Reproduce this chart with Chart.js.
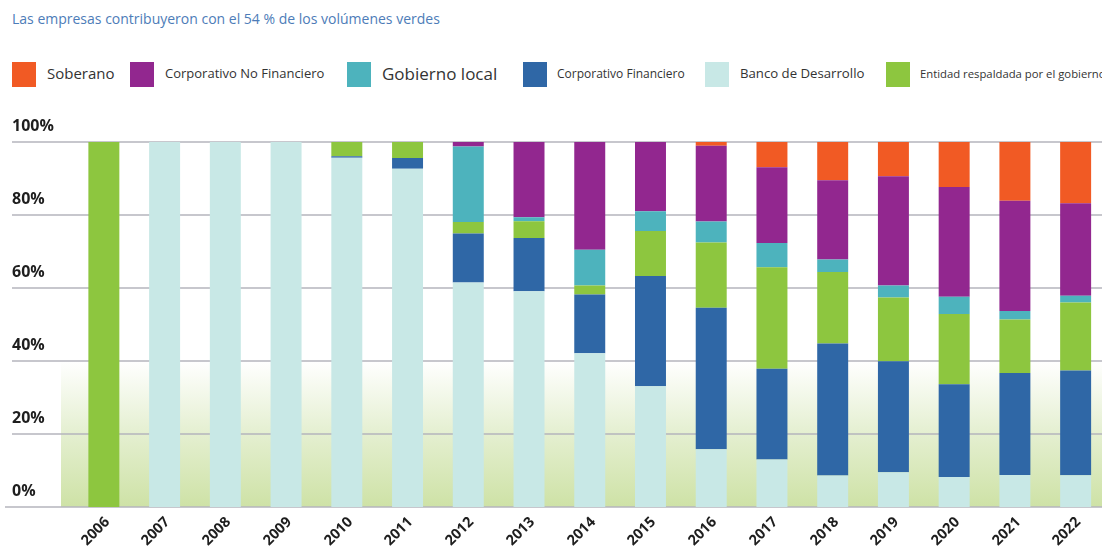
<!DOCTYPE html>
<html>
<head>
<meta charset="utf-8">
<script src="https://cdn.jsdelivr.net/npm/chart.js@4"></script>
<style>
  html, body { margin: 0; padding: 0; background: #fff; overflow: hidden; }
  #wrap { position: relative; width: 1102px; height: 549px; overflow: hidden; font-family: "Open Sans", sans-serif; }
  #chart { position: absolute; left: 0; top: 0; }
  .title { position: absolute; left: 12px; top: 9px; font-size: 14px; color: #4d7cb8; white-space: nowrap; }
  .lg-box { position: absolute; top: 62px; width: 24px; height: 25px; }
  .lg-txt { position: absolute; color: #333; white-space: nowrap; line-height: 1; }
  .xlab { position: absolute; font-size: 14.5px; font-weight: bold; color: #1e1e1e; line-height: 1; height: 15px;
          white-space: nowrap; transform-origin: 100% 50%; transform: rotate(-45deg); }
</style>
</head>
<body>
<div id="wrap">
  <div class="title">Las empresas contribuyeron con el 54 % de los volúmenes verdes</div>
  <div id="legend"></div>
  <canvas id="chart" width="1106" height="549"></canvas>
  <div id="xlabels"></div>
</div>
<script>
const years = ['2006','2007','2008','2009','2010','2011','2012','2013','2014','2015','2016','2017','2018','2019','2020','2021','2022'];
const yTicks = [0, 20, 40, 60, 80, 100];

// shares in % (bottom of the stack first)
const bancoDesarrollo  = [0, 100, 100, 100, 95.7, 92.7, 61.5, 59.1, 42.1, 33.1, 15.8, 13.0,  8.6,  9.5,  8.2,  8.8,  8.7];
const corpFinanciero   = [0,   0,   0,   0,  0.4,  2.9, 13.4, 14.6, 16.1, 30.2, 38.8, 24.9, 36.2, 30.4, 25.4, 27.9, 28.7];
const entidadRespald   = [100, 0,   0,   0,  3.9,  4.4,  3.2,  4.6,  2.5, 12.3, 17.9, 27.8, 19.6, 17.5, 19.3, 14.7, 18.6];
const gobiernoLocal    = [0,   0,   0,   0,  0,    0,   20.7,  1.1,  9.8,  5.4,  5.7,  6.6,  3.4,  3.3,  4.7,  2.3,  1.9];
const corpNoFinanciero = [0,   0,   0,   0,  0,    0,    1.2, 20.6, 29.5, 19.0, 20.8, 20.8, 21.7, 29.9, 30.1, 30.2, 25.3];
const soberano         = [0,   0,   0,   0,  0,    0,    0,    0,    0,    0,    1.0,  6.9, 10.5,  9.4, 12.3, 16.1, 16.8];

const colors = {
  soberano: '#f15a24',
  cnf: '#92278f',
  gob: '#4db3bd',
  cf: '#2f67a6',
  banco: '#c8e8e6',
  ent: '#8dc63f'
};

// legend in the order shown, each entry with its own text size as in the original
const legendItems = [
  { label: 'Soberano', color: colors.soberano, box: 12, text: 47, size: 15 },
  { label: 'Corporativo No Financiero', color: colors.cnf, box: 130, text: 165, size: 13 },
  { label: 'Gobierno local', color: colors.gob, box: 347, text: 382, size: 17 },
  { label: 'Corporativo Financiero', color: colors.cf, box: 523, text: 557, size: 12 },
  { label: 'Banco de Desarrollo', color: colors.banco, box: 705, text: 740, size: 13.2 },
  { label: 'Entidad respaldada por el gobierno', color: colors.ent, box: 886, text: 920, size: 11.3 }
];

const legendEl = document.getElementById('legend');
legendItems.forEach(item => {
  const b = document.createElement('div');
  b.className = 'lg-box';
  b.style.left = item.box + 'px';
  b.style.background = item.color;
  legendEl.appendChild(b);
  const t = document.createElement('div');
  t.className = 'lg-txt';
  t.style.left = item.text + 'px';
  t.style.fontSize = item.size + 'px';
  t.style.top = (74.5 - item.size * 0.55) + 'px';
  t.textContent = item.label;
  legendEl.appendChild(t);
});

// background band, grid lines and percentage labels above each line
const backdrop = {
  id: 'backdrop',
  beforeDatasetsDraw(chart) {
    const ctx = chart.ctx;
    const y = chart.scales.y;
    const right = chart.width;
    const top40 = y.getPixelForValue(40);
    const bottom = y.getPixelForValue(0);

    const grad = ctx.createLinearGradient(0, top40, 0, bottom);
    grad.addColorStop(0, 'rgba(255,255,255,1)');
    grad.addColorStop(0.5, 'rgb(228,239,208)');
    grad.addColorStop(1, 'rgb(206,226,166)');
    ctx.save();
    ctx.fillStyle = grad;
    ctx.fillRect(61, top40, right - 61, bottom - top40);

    ctx.strokeStyle = '#b4b4bc';
    ctx.lineWidth = 1.5;
    ctx.font = 'bold 16px "Open Sans", sans-serif';
    ctx.fillStyle = '#1e1e1e';
    ctx.textAlign = 'left';
    ctx.textBaseline = 'alphabetic';
    yTicks.forEach(v => {
      const py = y.getPixelForValue(v);
      ctx.beginPath();
      ctx.moveTo(v === 0 ? 5 : 12, py);
      ctx.lineTo(right, py);
      ctx.stroke();
      ctx.fillText(v + '%', 12, py - 11);
    });
    ctx.restore();
  }
};

const mk = (label, data, color) => ({
  label: label,
  data: data,
  backgroundColor: color,
  borderWidth: 0,
  barPercentage: 0.51,
  categoryPercentage: 1.0
});

const chart = new Chart(document.getElementById('chart'), {
  type: 'bar',
  data: {
    labels: years,
    datasets: [
      mk('Banco de Desarrollo', bancoDesarrollo, colors.banco),
      mk('Corporativo Financiero', corpFinanciero, colors.cf),
      mk('Entidad respaldada por el gobierno', entidadRespald, colors.ent),
      mk('Gobierno local', gobiernoLocal, colors.gob),
      mk('Corporativo No Financiero', corpNoFinanciero, colors.cnf),
      mk('Soberano', soberano, colors.soberano)
    ]
  },
  options: {
    responsive: false,
    animation: false,
    devicePixelRatio: 1,
    layout: { padding: { top: 142, left: 73.5, right: 0, bottom: 42 } },
    plugins: {
      legend: { display: false },
      tooltip: { enabled: false }
    },
    scales: {
      x: {
        stacked: true,
        display: false
      },
      y: {
        stacked: true,
        display: false,
        min: 0,
        max: 100
      }
    }
  },
  plugins: [backdrop]
});

// year labels turned 45 degrees, right end placed from the x scale
const xlabEl = document.getElementById('xlabels');
const base = chart.scales.y.getPixelForValue(0);
years.forEach((yr, i) => {
  const d = document.createElement('div');
  d.className = 'xlab';
  d.textContent = yr;
  const ax = chart.scales.x.getPixelForValue(i) + 3;
  const ay = base + 12;
  d.style.right = (1102 - ax) + 'px';
  d.style.top = (ay - 7.5) + 'px';
  xlabEl.appendChild(d);
});
</script>
</body>
</html>
